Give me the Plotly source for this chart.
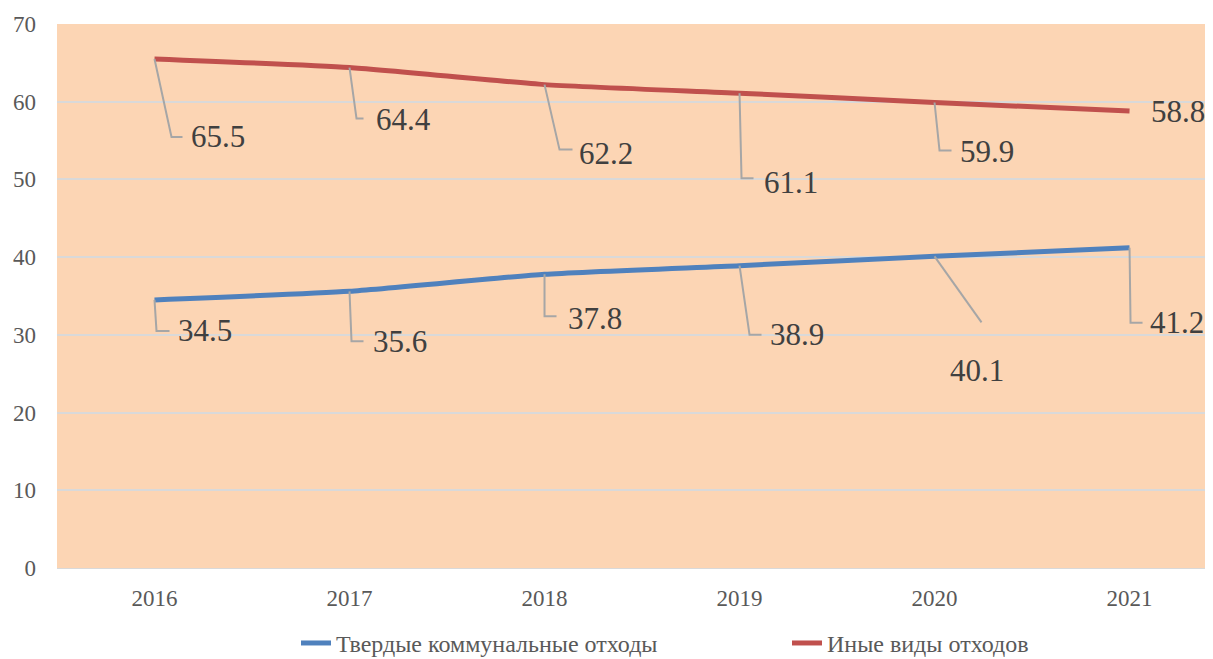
import plotly.graph_objects as go

years = ["2016", "2017", "2018", "2019", "2020", "2021"]
tko = [34.5, 35.6, 37.8, 38.9, 40.1, 41.2]
other = [65.5, 64.4, 62.2, 61.1, 59.9, 58.8]
name_tko = "Твердые коммунальные отходы"
name_other = "Иные виды отходов"

# label placement (pixel offsets: dx right, dy down), leader elbow points
other_lab = [(37, 78), (27, 52), (35, 69), (25, 89), (26, 49), (22, 0)]
other_lead = [[(17, 78), (28, 78)], [(7, 51), (14, 51)], [(15, 65), (28, 65)],
              [(2, 85), (14, 85)], [(5, 48), (17, 48)], []]
tko_lab = [(24, 31), (24, 50), (24, 44), (31, 69), (45, 114), (21, 75)]
tko_lead = [[(2, 31), (15, 31)], [(2, 50), (14, 50)], [(0, 42), (12, 42)],
            [(10, 69), (22, 69)], [(47, 66)], [(1, 75), (13, 75)]]

BLUE = "#4F81BD"
RED = "#C0504D"
FONT = "Liberation Serif, Times New Roman, serif"

fig = go.Figure()
fig.add_trace(go.Scatter(x=years, y=tko, mode="lines", name=name_tko,
                         line=dict(color=BLUE, width=5, shape="spline", smoothing=0.5)))
fig.add_trace(go.Scatter(x=years, y=other, mode="lines", name=name_other,
                         line=dict(color=RED, width=5, shape="spline", smoothing=0.5)))

annotations = []
shapes = []
for vals, labs, leads in [(other, other_lab, other_lead), (tko, tko_lab, tko_lead)]:
    for i, (yr, v) in enumerate(zip(years, vals)):
        dx, dy = labs[i]
        centered = (vals is tko and i == 4)
        annotations.append(dict(
            x=i, y=v, xref="x", yref="y", text=f"{v:.1f}", showarrow=False,
            xanchor="center" if centered else "left", yanchor="middle",
            xshift=dx - 3, yshift=-dy,
            font=dict(family=FONT, size=31, color="#404040")))
        if leads[i]:
            path = "M0,0 " + " ".join(f"L{px},{-py}" for px, py in leads[i])
            shapes.append(dict(type="path", xref="x", yref="y",
                               xsizemode="pixel", ysizemode="pixel",
                               xanchor=i, yanchor=v, path=path,
                               line=dict(color="#A6A6A6", width=2), layer="above"))

fig.update_layout(
    width=1205, height=651,
    margin=dict(l=49, r=0, t=16, b=91, autoexpand=False),
    paper_bgcolor="white",
    plot_bgcolor="#FCD5B4",
    font=dict(family=FONT, color="#595959", size=23),
    showlegend=True,
    legend=dict(orientation="h", xref="container", yref="container",
                x=0.239, xanchor="left", y=0.024, yanchor="middle",
                font=dict(family=FONT, size=24, color="#595959"),
                entrywidth=446, entrywidthmode="pixels", tracegroupgap=0),
    xaxis=dict(type="category", range=[-0.5, 5.428], showgrid=False,
               showline=True, linecolor="#D9D9D9", linewidth=1,
               ticks="", tickfont=dict(family=FONT, size=23, color="#595959"),
               ticklabelstandoff=9),
    yaxis=dict(range=[0, 70], dtick=10, showgrid=True, gridcolor="#D9D9D9", gridwidth=2,
               zeroline=False, showline=False, ticks="",
               tickfont=dict(family=FONT, size=23, color="#595959"), ticklabelstandoff=20),
    annotations=annotations,
    shapes=shapes,
)

fig.write_html("out.html")
